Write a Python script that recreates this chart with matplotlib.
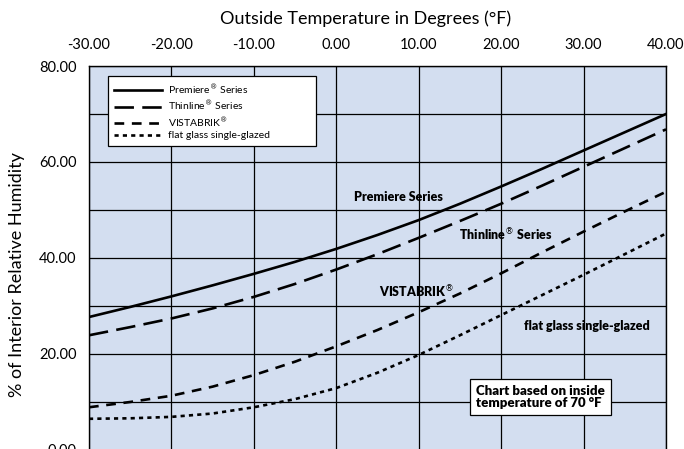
import numpy as np
import matplotlib
matplotlib.use("Agg")
import matplotlib.pyplot as plt

plt.rcParams['font.family'] = ['Lato', 'DejaVu Sans']
plt.rcParams['lines.scale_dashes'] = False

# outside temperature (deg F)
temps = [-30, -25, -20, -15, -10, -5, 0, 5, 10, 15, 20, 25, 30, 35, 40]

# % interior relative humidity
premiere = [27.7, 29.8, 32.0, 34.3, 36.7, 39.2, 41.9, 44.8, 47.9, 51.3, 54.9, 58.6, 62.4, 66.2, 70.0]
thinline = [23.9, 25.6, 27.4, 29.5, 31.9, 34.6, 37.6, 40.8, 44.2, 47.7, 51.3, 55.1, 59.0, 62.9, 66.8]
vistabrik = [8.9, 10.0, 11.3, 13.2, 15.6, 18.4, 21.6, 25.0, 28.7, 32.6, 36.8, 41.2, 45.5, 49.7, 53.8]
flat_glass = [6.5, 6.6, 6.9, 7.6, 8.9, 10.6, 12.9, 16.1, 19.8, 23.9, 28.1, 32.3, 36.5, 40.8, 45.1]

x_ticks = [-30, -20, -10, 0, 10, 20, 30, 40]
y_ticks = [0, 20, 40, 60, 80]

fig = plt.figure(figsize=(6.84, 4.49), dpi=100)
ax = fig.add_axes([0.1301, -0.0022, 0.8436, 0.8552])
ax.set_facecolor("#D3DEF0")

lw = 1.9
ax.plot(temps, premiere, color="black", lw=lw, label=r"Premiere$^{\circledR}$ Series")
ax.plot(temps, thinline, color="black", lw=lw, dashes=(14, 6), label=r"Thinline$^{\circledR}$ Series")
ax.plot(temps, vistabrik, color="black", lw=lw, dashes=(7, 5.5), label=r"VISTABRIK$^{\circledR}$")
ax.plot(temps, flat_glass, color="black", lw=lw, dashes=(3, 3), label="flat glass single-glazed")

ax.set_xlim(-30, 40)
ax.set_ylim(0, 80)
ax.set_xticks(x_ticks)
ax.set_xticklabels([f"{v:.2f}" for v in x_ticks])
ax.set_yticks(y_ticks)
ax.set_yticklabels([f"{v:.2f}" for v in y_ticks])
ax.set_yticks(np.arange(0, 81, 10), minor=True)
ax.xaxis.tick_top()
ax.tick_params(axis="both", which="both", length=0, labelsize=10.5)
ax.tick_params(axis="x", pad=10)
ax.tick_params(axis="y", pad=9)
ax.grid(True, which="both", color="black", lw=0.9)
ax.set_axisbelow(True)
for s in ax.spines.values():
    s.set_color("black")
    s.set_linewidth(1.0)

# curve labels
lab = dict(fontsize=9, fontweight="heavy", ha="center", va="center")
ax.text(7.5, 52.7, "Premiere Series", **lab)
ax.text(20.6, 44.8, r"Thinline$^{\circledR}$ Series", **lab)
ax.text(9.75, 33.0, r"VISTABRIK$^{\circledR}$", **lab)
ax.text(30.4, 25.9, "flat glass single-glazed", **lab)

ax.text(17.0, 11.0, "Chart based on inside\ntemperature of 70 °F", fontsize=9.5, fontweight="heavy",
        ha="left", va="center", linespacing=1.0,
        bbox=dict(boxstyle="square,pad=0.45", fc="white", ec="black", lw=0.9))

leg = ax.legend(loc="upper left", bbox_to_anchor=(0.033, 0.6, 0.3605, 0.374), mode="expand",
                fontsize=7.5, handlelength=4.6, handletextpad=0.6, labelspacing=0.22,
                borderpad=0.6, fancybox=False, framealpha=1, edgecolor="black", borderaxespad=0)
leg.get_frame().set_linewidth(0.9)

fig.text(366 / 684, 1 - 19 / 449, "Outside Temperature in Degrees (°F)", fontsize=13,
         ha="center", va="center")
fig.text(17 / 684, 1 - 275 / 449, "% of Interior Relative Humidity", fontsize=13,
         ha="center", va="center", rotation=90)

fig.savefig("out.png", dpi=100)
